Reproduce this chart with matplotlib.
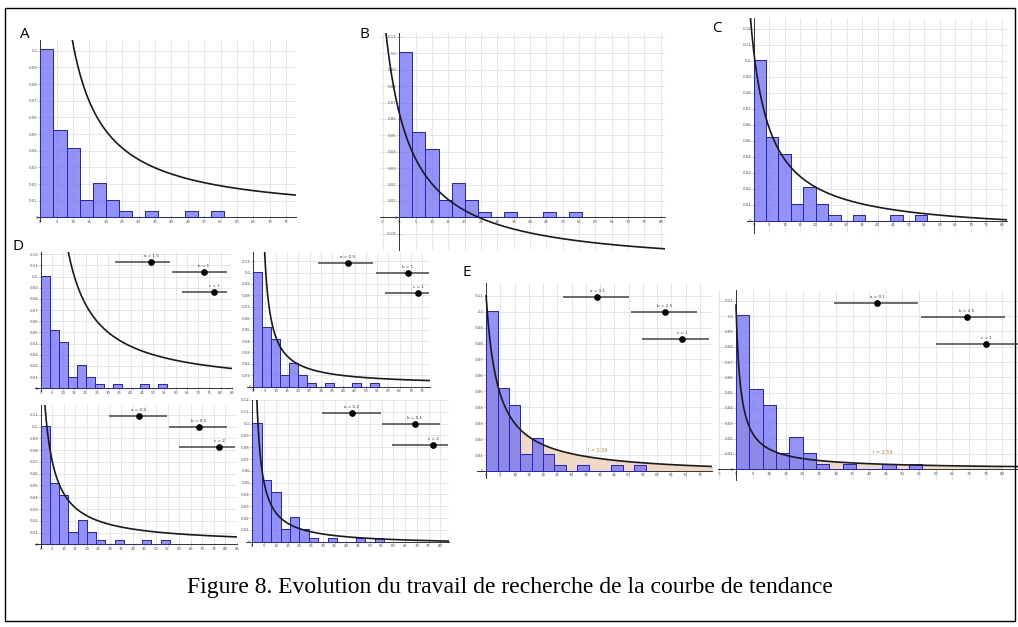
"""Histogram of the class densities with the successive trend-curve attempts (GeoGebra-style panels)."""
import numpy as np
import matplotlib
matplotlib.use("Agg")
import matplotlib.pyplot as plt
from matplotlib.ticker import FuncFormatter, MultipleLocator
from matplotlib.patches import Rectangle

W, H = 1018, 627

# relative frequency density, classes of width 4 starting at 0
class_width = 4
class_starts = np.arange(0, 56, class_width)
densities = [0.1007, 0.0521, 0.0417, 0.0104, 0.0208, 0.0104, 0.0035,
             0.0, 0.0035, 0.0, 0.0, 0.0035, 0.0, 0.0035]

# trend curve of each attempt: y = a / (x + c) + d
panel_names = ["A", "B", "C", "D1", "D2", "D3", "D4", "E1", "E2"]
curve_a = [1.04, 1.14, 0.785, 1.5, 0.3315, 0.555, 0.2856, 0.462, 0.15]
curve_c = [0.0, 12.0, 6.8, 0.0, -2.2, 2.9, 0.4, 4.1, 1.4]
curve_d = [0.0, -0.0314, -0.0084, 0.0, 0.001, 0.0, -0.0029, -0.0027, 0.0]

slider_labels = {
    "D1": ["a = 1.5", "b = 1", "c = 1"],
    "D2": ["a = 0.5", "b = 1", "c = 1"],
    "D3": ["a = 0.2", "b = 0.5", "c = 2"],
    "D4": ["a = 0.2", "b = 0.1", "c = 2"],
    "E1": ["a = 0.1", "b = 2.5", "c = 1"],
    "E2": ["a = 0.1", "b = 2.5", "c = 1"],
}
area_labels = {"E1": "I = 2.59", "E2": "I = 2.59"}
caption = "Figure 8. Evolution du travail de recherche de la courbe de tendance"

# ---- layout (pixels) -------------------------------------------------------
boxes = {  # left, top, right, bottom
    "A": (37, 40, 296, 221),
    "B": (380, 33, 665, 250),
    "C": (747, 18, 1007, 233),
    "D1": (35, 252, 232, 391),
    "D2": (247, 252, 430, 390),
    "D3": (35, 405, 237, 548),
    "D4": (246, 400, 449, 545),
    "E1": (477, 283, 712, 478),
    "E2": (718, 290, 1018, 480),
}
xlims = {"A": (-1, 78), "B": (-5.9, 81.3), "C": (-2.1, 81.6),
         "D1": (-2.5, 85), "D2": (-2.8, 78.5), "D3": (-2.5, 85.1),
         "D4": (-2.7, 83.7), "E1": (-3.2, 79.3), "E2": (-5.4, 84.7)}
ylims = {"A": (-0.0022, 0.1064), "B": (-0.0199, 0.1124), "C": (-0.0078, 0.1268),
         "D1": (-0.0025, 0.122), "D2": (-0.0029, 0.118), "D3": (-0.0031, 0.1183),
         "D4": (-0.0028, 0.120), "E1": (-0.0044, 0.118), "E2": (-0.007, 0.117)}
curve_from = {"A": 0.5, "D1": 0.5, "D2": 2.45, "D3": 0, "D4": 0, "E1": 0, "E2": 0}
area_label_pos = {"E1": (39, 0.0113), "E2": (44, 0.0094)}

sliders = {  # x_start, x_end, y, x_dot
    "D1": [(115, 170, 262, 151), (172, 227, 272, 204), (182, 227, 292, 214)],
    "D2": [(318, 373, 263, 348), (376, 429, 273, 408), (385, 429, 293, 418)],
    "D3": [(109, 167, 416, 139), (169, 227, 427, 199), (179, 235, 447, 219)],
    "D4": [(322, 381, 413, 352), (382, 440, 424, 415), (392, 448, 445, 433)],
    "E1": [(563, 629, 297, 597), (631, 697, 312, 665), (642, 709, 339, 682)],
    "E2": [(834, 918, 303, 877), (921, 1005, 317, 967), (936, 1018, 344, 986)],
}
letters = {"A": (25, 35), "B": (364, 35), "C": (717, 28), "D": (18, 246), "E": (467, 272)}

BAR_FACE = "#6f6ff2"
BAR_EDGE = "#2323c8"
GRID = "#dadada"


def fmt_tick(v, _pos):
    s = f"{v:.2f}".rstrip("0").rstrip(".")
    return "0" if s in ("-0", "") else s


def draw_panel(fig, name, a, c, d):
    l, t, r, b = boxes[name]
    ax = fig.add_axes([l / W, 1 - b / H, (r - l) / W, (b - t) / H])
    ax.set_xlim(*xlims[name])
    ax.set_ylim(*ylims[name])

    ax.xaxis.set_major_locator(MultipleLocator(5))
    ax.yaxis.set_major_locator(MultipleLocator(0.01))
    ax.xaxis.set_major_formatter(FuncFormatter(fmt_tick))
    ax.yaxis.set_major_formatter(FuncFormatter(fmt_tick))
    ax.grid(True, color=GRID, lw=0.45, zorder=0)
    ax.set_axisbelow(True)
    for side in ("top", "right"):
        ax.spines[side].set_visible(False)
    for side in ("left", "bottom"):
        ax.spines[side].set_position(("data", 0))
        ax.spines[side].set_color("#333333")
        ax.spines[side].set_linewidth(0.7)
    ax.tick_params(labelsize=2.8, labelcolor="#555555", length=1.5, width=0.4,
                   direction="inout", pad=1, colors="#555555")

    x0 = max(xlims[name][0], curve_from.get(name, xlims[name][0]))
    xs = np.linspace(x0, xlims[name][1], 800)
    ys = a / (xs + c) + d

    if name in area_labels:
        xf = np.linspace(0, 80, 400)
        ax.fill_between(xf, 0, a / (xf + c) + d, color="#efd8c4", lw=0, zorder=1)
        ax.text(*area_label_pos[name], area_labels[name], color="#c8803e",
                fontsize=3.5, ha="center", va="bottom", zorder=5)

    ax.bar(class_starts, densities, width=class_width, align="edge",
           facecolor=BAR_FACE, edgecolor=BAR_EDGE, alpha=0.75, lw=0.7, zorder=3)
    ax.bar(class_starts, densities, width=class_width, align="edge",
           facecolor="none", edgecolor=BAR_EDGE, lw=0.7, zorder=3)
    ax.plot(xs, ys, color="#1a1a1a", lw=1.2, zorder=4)
    return ax


fig = plt.figure(figsize=(W / 100, H / 100), dpi=100)

for name, a, c, d in zip(panel_names, curve_a, curve_c, curve_d):
    draw_panel(fig, name, a, c, d)

# overlay in pixel units: sliders, letters, frame, caption
ov = fig.add_axes([0, 0, 1, 1], zorder=10)
ov.set_xlim(0, W)
ov.set_ylim(H, 0)
ov.axis("off")

for name, rows in sliders.items():
    for (xa, xb, y, xd), lab in zip(rows, slider_labels[name]):
        ov.plot([xa, xb], [y, y], color="#444444", lw=1.1, solid_capstyle="butt")
        ov.plot(xd, y, "o", color="black", ms=3.8)
        ov.text(xd, y - 4, lab, fontsize=3, ha="center", va="bottom", color="#333333")

for lab, (x, y) in letters.items():
    ov.text(x, y, lab, fontsize=11, ha="center", va="center", family="Open Sans")

ov.add_patch(Rectangle((5, 8), 1010, 613, fill=False, edgecolor="black", lw=1.0))
ov.text(510, 588, caption, fontsize=17, ha="center", va="center",
        family="Liberation Serif")

fig.savefig("out.png", dpi=100)
plt.close(fig)
